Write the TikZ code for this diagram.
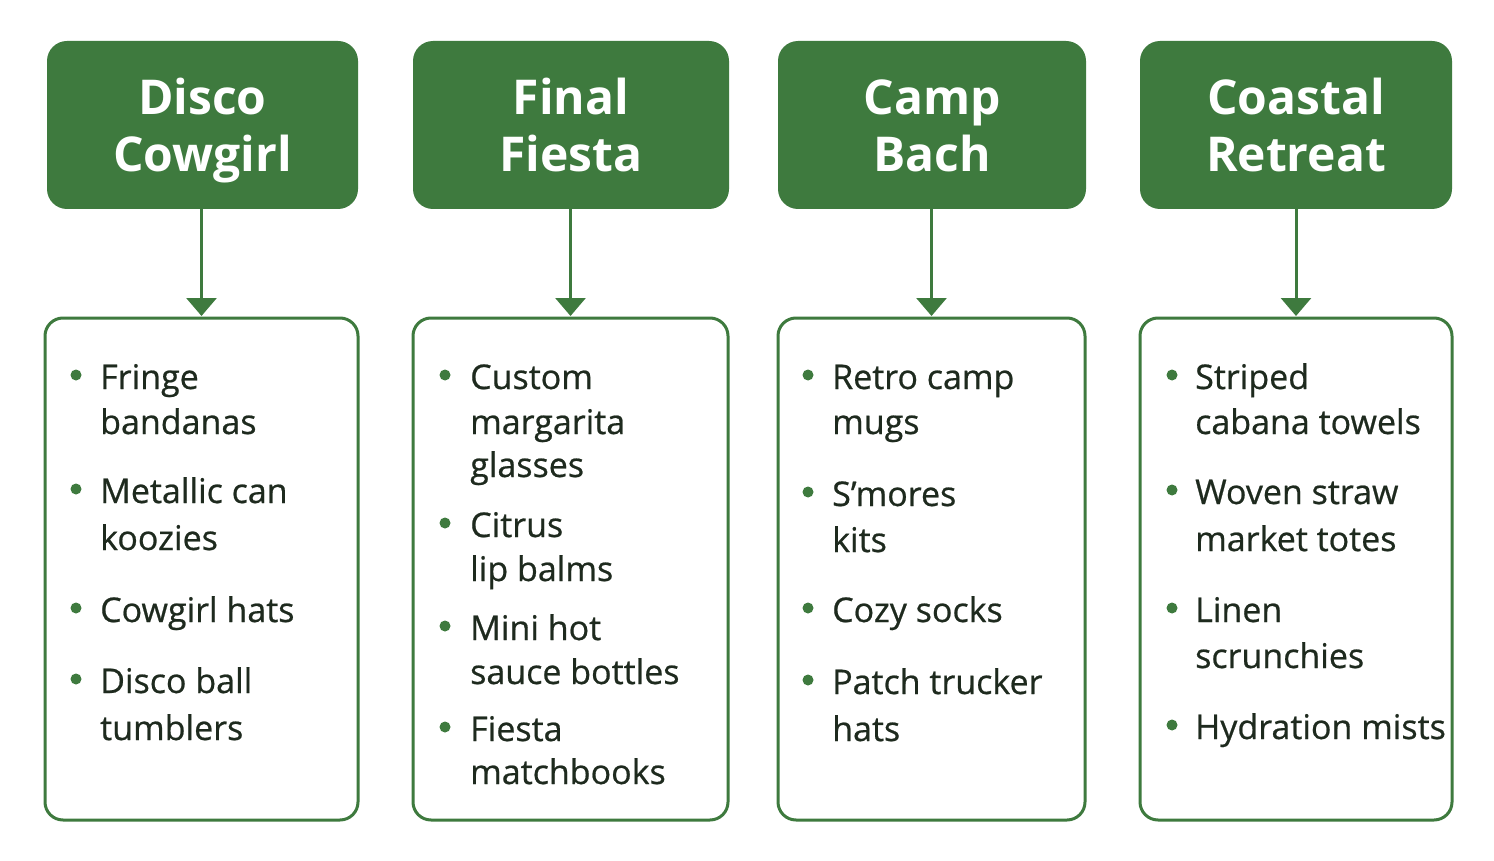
\documentclass[tikz,border=0pt]{standalone}
\usepackage{fontspec}
\setmainfont{Open Sans}
\usetikzlibrary{arrows.meta}
\definecolor{gr}{HTML}{3E7A3E}
\definecolor{tx}{HTML}{1E2A1E}
\begin{document}
\begin{tikzpicture}[x=1pt,y=-1pt,
  hdr/.style={fill=gr,rounded corners=20pt},
  cbox/.style={draw=gr,line width=3pt,rounded corners=18pt,fill=white},
  htxt/.style={text=white,font=\fontsize{48}{56}\selectfont\bfseries,anchor=base,inner sep=0},
  itxt/.style={text=tx,font=\fontsize{34}{40}\selectfont\addfontfeature{FakeBold=0.6},anchor=base west,inner sep=0},
  bul/.style={circle,fill=gr,inner sep=0,minimum size=11pt},
  arr/.style={draw=gr,line width=3pt,-{Triangle[width=30pt,length=18pt]}}]
\useasboundingbox (0,0) rectangle (1494,861);
\fill[white] (0,0) rectangle (1494,861);
% headers
\foreach \n/\a/\b/\l/\m in {1/47/358/Disco/Cowgirl,2/413/729/Final/Fiesta,3/778/1086/Camp/Bach,4/1140/1452/Coastal/Retreat}{
  \path[hdr] (\a,41) rectangle (\b,209);
  \node[htxt] (h\n a) at ({(\a+\b)/2},115) {\l};
  \node[htxt] (h\n b) at ({(\a+\b)/2},172) {\m};
}
\foreach \n/\a/\b in {1/45/358,2/413/728,3/778/1085,4/1140/1452}{
  \draw[cbox] (\a,318) rectangle (\b,820);
  \coordinate (t\n) at ({(\a+\b)/2},209);
  \coordinate (c\n) at ({(\a+\b)/2},316);
  \draw[arr] (t\n) -- (c\n);
}
% items: x of bullet, x of text
\newcommand\itm[4]{\node[bul] (b#1) at (#2,#4-2) {};}
\foreach \n/\bx/\tx/\y/\t in {
 1/76/100/377/Fringe, 1/76/100/422/bandanas, 1/76/100/491/Metallic can, 1/76/100/538/koozies, 1/76/100/610/Cowgirl hats, 1/76/100/681/Disco ball, 1/76/100/728/tumblers,
 2/445/470/377/Custom, 2/445/470/422/margarita, 2/445/470/465/glasses, 2/445/470/525/Citrus, 2/445/470/569/lip balms, 2/445/470/628/Mini hot, 2/445/470/672/sauce bottles, 2/445/470/729/Fiesta, 2/445/470/772/matchbooks,
 3/808/832/377/Retro camp, 3/808/832/422/mugs, 3/808/832/494/S’mores, 3/808/832/540/kits, 3/808/832/610/Cozy socks, 3/808/832/682/Patch trucker, 3/808/832/729/hats,
 4/1172/1195/377/Striped, 4/1172/1195/422/cabana towels, 4/1172/1195/492/Woven straw, 4/1172/1195/539/market totes, 4/1172/1195/610/Linen, 4/1172/1195/656/scrunchies, 4/1172/1195/727/Hydration mists}{
  \node[itxt] (i\n-\y) at (\tx,\y+12) {\t};
}
\foreach \bx/\y in {76/377,76/491,76/610,76/681,445/377,445/525,445/628,445/729,808/377,808/494,808/610,808/682,1172/377,1172/492,1172/610,1172/727}{
  \node[bul] (b\bx-\y) at (\bx,\y-2) {};
}
\end{tikzpicture}
\end{document}
